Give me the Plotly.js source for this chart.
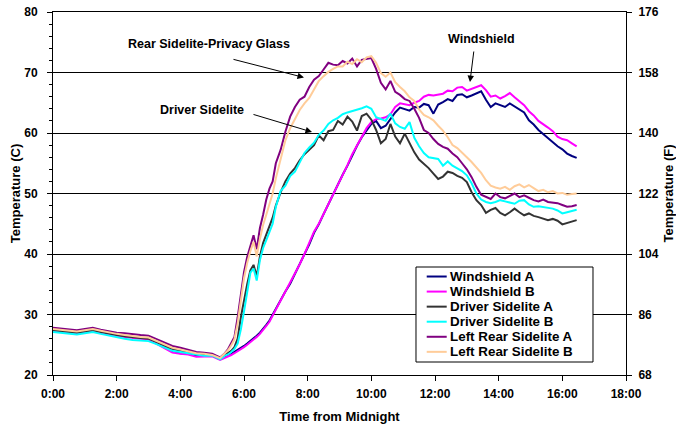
<!DOCTYPE html>
<html><head><meta charset="utf-8">
<script src="https://cdn.plot.ly/plotly-3.0.1.min.js"></script>
<style>html,body{margin:0;padding:0;background:#fff;}#chart{width:676px;height:425px;}</style>
</head><body><div id="chart"></div>
<script>
// ---- data (hours since midnight, temperatures in deg C) ----
const hours = [0,0.25,0.5,0.75,1,1.25,1.5,1.75,2,2.25,2.5,2.75,3,3.25,3.5,3.75,4,4.25,4.5,4.75,5,5.25,
  5.4,5.5,5.6,5.7,5.8,5.9,6,6.1,6.2,6.3,6.4,6.5,6.6,6.7,6.8,6.9,7,
  7.15,7.3,7.45,7.6,7.75,7.9,8.05,8.2,8.35,8.5,8.65,8.8,8.95,9.1,9.25,9.4,9.55,9.7,9.85,10,
  10.15,10.3,10.45,10.6,10.75,10.9,11.05,11.2,11.35,11.5,11.65,11.8,11.95,12.1,12.25,12.4,12.55,12.7,12.85,13,
  13.15,13.3,13.45,13.6,13.75,13.9,14.05,14.2,14.35,14.5,14.65,14.8,14.95,15.1,15.25,15.4,15.55,15.7,15.85,16,
  16.15,16.3,16.45];

const windshieldA = [27.4,27.3,27.2,27.0,27.2,27.4,27.1,26.8,26.6,26.4,26.2,26.1,26.0,25.3,24.6,23.9,23.6,23.5,23.2,23.2,23.2,22.6,
  22.9,23.2,23.5,23.8,24.1,24.4,24.8,25.2,25.6,26.0,26.5,27.0,27.6,28.3,29.0,30.0,31.0,
  32.4,33.8,35.1,36.7,38.4,40.0, 41.6,43.5,44.9,46.6,48.3,49.9,51.5, 53.1,54.6,56.4,57.9,59.3,60.5,61.5,
  62.0,60.8,61.2,62.3,63.4,64.2, 64.0,63.7,64.3,64.2,64.8,64.6,63.2, 64.7,65.1,65.6,65.3,66.3,66.4,65.9,
  66.2,66.5,66.9,65.5,64.3,64.9, 64.6,64.3,64.9,64.4,63.9,63.4,62.1, 61.4,60.5,59.8,59.1,58.5,57.8,57.3,
  56.6,56.2,55.9];

const windshieldB = [27.3,27.2,27.1,26.9,27.1,27.3,27.0,26.7,26.5,26.3,26.1,26.0,25.9,25.2,24.4,23.7,23.5,23.4,23.0,23.1,23.1,22.5,
  22.8,23.1,23.3,23.6,23.9,24.2,24.6,25.0,25.4,25.8,26.3,26.8,27.4,28.1,28.8,29.8,30.8,
  32.3,33.6,35.1,36.6,38.3,40.0, 41.8,43.7,45.0,46.6,48.2,49.9,51.5, 53.1,54.7,56.5,58.0,59.5,60.8,61.8,
  62.3,62.4,62.6,63.1,64.3,64.9, 64.8,64.6,65.0,65.3,66.0,66.3,66.2, 66.4,66.5,67.0,66.9,67.5,67.6,67.0,
  67.3,67.6,67.9,67.1,66.0,66.2, 65.7,66.1,66.6,65.9,65.2,64.6,63.6, 62.9,62.0,61.5,60.9,60.3,59.4,59.0,
  58.8,58.3,57.8];

const driverA = [27.4,27.3,27.2,27.0,27.2,27.4,27.1,26.8,26.6,26.4,26.2,26.1,26.0,25.4,24.8,24.3,24.0,23.8,23.5,23.4,23.3,22.7,
  23.3,23.6,24.0,24.6,26.0,29.5,32.5,35.0,37.3,38.2,36.3,39.6,41.8,43.2,44.8,46.0,48.0,
  50.2,52.0,53.3,54.2,55.5,56.5, 57.2,58.0,59.6,58.8,60.3,60.5,62.0, 61.4,62.7,61.9,60.4,62.8,63.2,62.2,
  60.5,58.3,59.0,61.5,59.4,58.3, 59.9,58.3,56.8,55.6,54.9,54.2,53.3, 52.4,52.8,53.6,53.4,52.9,52.6,51.9,
  50.2,48.9,48.1,46.8,47.3,47.6, 46.8,46.4,46.9,47.5,46.9,46.4,46.7, 46.3,46.1,45.9,45.6,45.8,45.5,44.9,
  45.1,45.4,45.6];

const driverB = [27.1,27.0,26.9,26.7,26.9,27.1,26.8,26.5,26.2,26.0,25.8,25.7,25.6,25.1,24.5,24.0,23.8,23.6,23.3,23.2,23.2,22.6,
  23.2,23.4,23.8,24.3,25.2,27.5,30.5,34.0,36.9,37.6,35.6,39.0,41.0,42.3,43.5,45.0,47.8,
  50.4,51.3,52.9,53.6,55.3,56.7, 57.6,58.4,59.7,60.4,61.5,62.1,62.5, 63.1,63.4,63.6,63.8,64.1,64.4,64.0,
  62.6,62.3,62.0,63.2,61.6,61.0, 60.7,61.8,59.2,57.8,56.7,56.0,55.8, 55.7,54.6,55.3,54.6,54.2,53.7,53.0,
  51.7,50.0,49.0,48.6,48.4,48.6, 48.9,48.7,48.5,48.3,48.8,48.9,48.2, 47.8,47.9,47.8,47.6,47.5,47.2,46.7,
  46.9,47.1,47.3];

const rearA = [27.8,27.7,27.6,27.4,27.6,27.8,27.5,27.2,27.0,26.9,26.7,26.6,26.5,25.9,25.3,24.8,24.5,24.2,23.8,23.7,23.5,22.9,
  23.6,24.3,25.2,26.3,29.5,33.5,37.0,39.5,41.5,43.1,40.8,44.3,46.5,49.0,50.8,52.0,55.0,
  57.2,60.2,62.7,64.3,65.5,66.0, 67.6,68.8,69.4,70.5,71.6,71.3,71.2, 71.9,71.5,72.3,71.0,72.1,72.3,72.4,
  70.6,68.3,67.2,68.6,66.8,66.3, 65.6,65.3,64.0,62.5,60.5,60.0,59.0, 58.2,57.7,57.4,56.6,56.0,55.0,54.0,
  52.7,51.1,49.8,49.4,49.1,50.0, 49.4,49.2,49.6,50.0,49.4,49.7,49.3, 48.9,48.7,49.0,48.6,48.5,48.4,48.1,
  47.8,47.9,48.1];

const rearB = [27.6,27.5,27.4,27.2,27.4,27.6,27.3,27.0,26.8,26.6,26.4,26.3,26.2,25.6,25.0,24.5,24.2,23.9,23.6,23.5,23.3,22.8,
  23.5,24.1,24.9,25.9,28.5,32.5,36.0,38.5,40.5,42.0,39.6,42.5,44.8,46.5,48.2,50.0,52.5,
  55.5,58.8,60.8,62.3,63.8,64.9, 65.8,67.2,68.6,69.4,70.1,70.6,71.0, 71.0,71.8,71.4,72.2,71.7,72.5,72.7,
  71.6,69.9,69.3,70.0,68.4,67.6, 66.9,65.9,65.3,63.9,63.0,62.6,62.1, 61.2,60.4,59.3,58.0,57.5,56.8,56.0,
  55.2,54.3,53.4,52.2,51.3,51.0, 50.8,51.1,50.6,51.2,51.5,51.0,51.4, 50.9,50.4,50.6,50.2,50.4,50.0,50.1,
  49.8,49.9,50.0];

const seriesNames = ['Windshield A','Windshield B','Driver Sidelite A','Driver Sidelite B','Left Rear Sidelite A','Left Rear Sidelite B'];
const seriesValues = [windshieldA, windshieldB, driverA, driverB, rearA, rearB];
const xTickVals = [0,2,4,6,8,10,12,14,16,18];
const xTickText = ['0:00','2:00','4:00','6:00','8:00','10:00','12:00','14:00','16:00','18:00'];
const cTickVals = [20,30,40,50,60,70,80];
const fTickVals = [68,86,104,122,140,158,176];
const calloutTexts = ['Rear Sidelite-Privacy Glass','Driver Sidelite','Windshield'];

// ---- styles ----
const colors = ['#000080','#FF00FF','#333333','#00FFFF','#800080','#FFCC99'];
const FONT = 'Liberation Sans, Arial, sans-serif';

const traces = seriesNames.map((n,i)=>({
  x: hours, y: seriesValues[i], name: n, type:'scatter', mode:'lines',
  line:{color:colors[i], width:2}, showlegend:false, hoverinfo:'x+y+name'
}));
traces.push({x:[], y:[], yaxis:'y2', showlegend:false, hoverinfo:'skip', mode:'lines'});

// manual legend (compact rows)
const shapes = [];
const annotations = [];
const L = {x0:0.6335, x1:0.9424, y0:0.0358, y1:0.2975, lx0:0.6522, lx1:0.6871, tx:0.6916, top:0.2713, step:0.0415};
shapes.push({type:'rect', xref:'paper', yref:'paper', x0:L.x0, x1:L.x1, y0:L.y0, y1:L.y1,
  line:{color:'#000', width:1}, fillcolor:'#fff', layer:'above'});
seriesNames.forEach((n,i)=>{
  const yy = L.top - i*L.step;
  shapes.push({type:'line', xref:'paper', yref:'paper', x0:L.lx0, x1:L.lx1, y0:yy, y1:yy,
    line:{color:colors[i], width:2}, layer:'above'});
  annotations.push({xref:'paper', yref:'paper', x:L.tx, y:yy, text:n, showarrow:false,
    xanchor:'left', yanchor:'middle', borderpad:0,
    font:{family:FONT, size:13.4, weight:'bold', color:'#000'}});
});

// callout labels and arrows
const callTextPos = [[0.2719,0.9127],[0.2595,0.730],[0.7473,0.9248]];
const arrowTips = [[0.438,0.8196,-72,-18.5],[0.452,0.6694,-60,-18],[0.7277,0.8072,4,-32]];
calloutTexts.forEach((t,i)=>{
  annotations.push({xref:'paper', yref:'paper', x:callTextPos[i][0], y:callTextPos[i][1], text:t,
    showarrow:false, xanchor:'center', yanchor:'middle',
    font:{family:FONT, size:12.5, weight:'bold', color:'#000'}});
  annotations.push({xref:'paper', yref:'paper', x:arrowTips[i][0], y:arrowTips[i][1], text:'',
    showarrow:true, ax:arrowTips[i][2], ay:arrowTips[i][3], axref:'pixel', ayref:'pixel',
    arrowhead:2, arrowsize:1.3, arrowwidth:1, arrowcolor:'#000', standoff:0, startstandoff:0});
});

const tickFont = {family:FONT, size:12, weight:'bold', color:'#000'};
const titleFont = {family:FONT, size:13, weight:'bold', color:'#000'};

const layout = {
  width:676, height:425,
  margin:{l:53, r:50, t:12, b:50, pad:0},
  paper_bgcolor:'#fff', plot_bgcolor:'#fff',
  showlegend:false,
  xaxis:{range:[0,18], tickvals:xTickVals, ticktext:xTickText, ticks:'outside', ticklen:5,
    tickcolor:'#000', tickwidth:1, showline:true, linecolor:'#000', linewidth:1, mirror:true,
    showgrid:false, zeroline:false, tickfont:tickFont, ticklabelstandoff:3,
    title:{text:'Time from Midnight', font:titleFont, standoff:11}},
  yaxis:{range:[20,80], tickvals:cTickVals, ticks:'outside', ticklen:5, tickcolor:'#000', tickwidth:1,
    minor:{dtick:2, ticks:'outside', ticklen:3, tickcolor:'#000', showgrid:false},
    showline:true, linecolor:'#000', linewidth:1, showgrid:true, gridcolor:'#000', gridwidth:1,
    zeroline:false, tickfont:tickFont, ticklabelstandoff:7,
    title:{text:'Temperature (C)', font:titleFont, standoff:0}},
  yaxis2:{range:[68,176], tickvals:fTickVals, overlaying:'y', side:'right', anchor:'x',
    ticks:'outside', ticklen:5, tickcolor:'#000', tickwidth:1, showline:true, linecolor:'#000',
    linewidth:1, showgrid:false, zeroline:false, tickfont:tickFont, ticklabelstandoff:4,
    title:{text:'Temperature (F)', font:titleFont, standoff:6}},
  shapes: shapes,
  annotations: annotations
};

Plotly.newPlot('chart', traces, layout, {displayModeBar:false, staticPlot:true});
</script>
</body></html>
